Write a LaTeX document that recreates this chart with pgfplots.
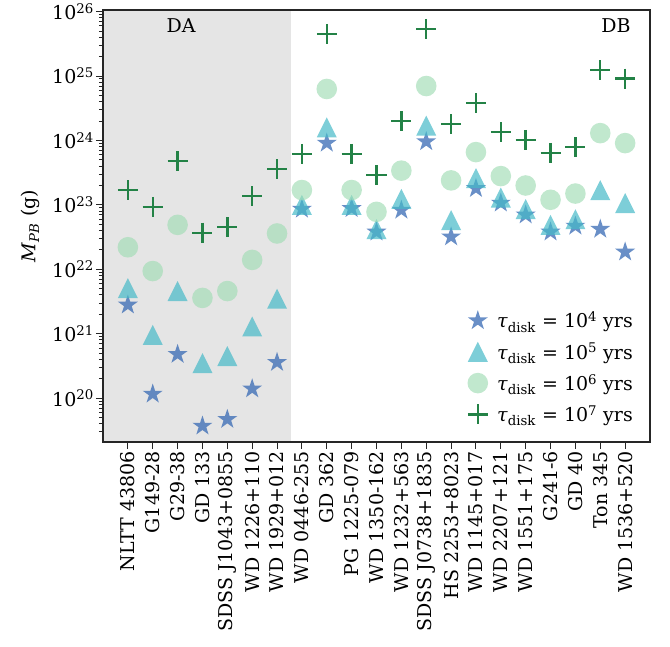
\documentclass[border=0pt]{standalone}
\usepackage{fontspec}
\setmainfont{DejaVu Serif}
\usepackage{pgfplots}
\usepackage{pgfplotstable}
\pgfplotsset{compat=1.18}

\definecolor{cstar}{RGB}{55,105,180}
\definecolor{ctri}{RGB}{70,185,200}
\definecolor{ccirc}{RGB}{160,220,180}
\definecolor{cplus}{RGB}{35,130,70}
\definecolor{bgray}{RGB}{229,229,229}
\definecolor{axgray}{RGB}{38,38,38}

\pgfdeclareplotmark{fstar}{%
  \pgfpathmoveto{\pgfpointpolar{90}{\pgfplotmarksize}}%
  \pgfpathlineto{\pgfpointpolar{126}{0.382\pgfplotmarksize}}%
  \pgfpathlineto{\pgfpointpolar{162}{\pgfplotmarksize}}%
  \pgfpathlineto{\pgfpointpolar{198}{0.382\pgfplotmarksize}}%
  \pgfpathlineto{\pgfpointpolar{234}{\pgfplotmarksize}}%
  \pgfpathlineto{\pgfpointpolar{270}{0.382\pgfplotmarksize}}%
  \pgfpathlineto{\pgfpointpolar{306}{\pgfplotmarksize}}%
  \pgfpathlineto{\pgfpointpolar{342}{0.382\pgfplotmarksize}}%
  \pgfpathlineto{\pgfpointpolar{18}{\pgfplotmarksize}}%
  \pgfpathlineto{\pgfpointpolar{54}{0.382\pgfplotmarksize}}%
  \pgfpathclose
  \pgfusepathqfill}
\pgfdeclareplotmark{ftri}{%
  \pgfpathmoveto{\pgfqpoint{0pt}{\pgfplotmarksize}}%
  \pgfpathlineto{\pgfqpoint{-\pgfplotmarksize}{-\pgfplotmarksize}}%
  \pgfpathlineto{\pgfqpoint{\pgfplotmarksize}{-\pgfplotmarksize}}%
  \pgfpathclose
  \pgfusepathqfill}
\pgfdeclareplotmark{fcirc}{%
  \pgfpathcircle{\pgfpointorigin}{\pgfplotmarksize}%
  \pgfusepathqfill}

\pgfplotstableread{
x star tri circ plus
0  2.8e21  5.1e21  2.2e22  1.7e23
1  1.16e20 9.6e20  9.4e21  9.3e22
2  4.8e20  4.6e21  4.9e22  4.8e23
3  3.7e19  3.5e20  3.6e21  3.7e22
4  4.7e19  4.5e20  4.6e21  4.5e22
5  1.4e20  1.3e21  1.4e22  1.37e23
6  3.6e20  3.5e21  3.6e22  3.6e23
7  8.6e22  1.0e23  1.7e23  6.2e23
8  9.1e23  1.6e24  6.3e24  4.5e25
9  8.8e22  1.0e23  1.7e23  6.2e23
10 3.8e22  4.2e22  7.8e22  2.9e23
11 8.3e22  1.24e23 3.4e23  2.0e24
12 9.6e23  1.7e24  7.0e24  5.4e25
13 3.2e22  5.8e22  2.4e23  1.8e24
14 1.8e23  2.6e23  6.6e23  3.8e24
15 1.07e23 1.3e23  2.8e23  1.35e24
16 7.0e22  8.6e22  2.0e23  1.02e24
17 3.8e22  4.9e22  1.2e23  6.4e23
18 4.7e22  6.0e22  1.5e23  7.9e23
19 4.2e22  1.7e23  1.3e24  1.24e25
20 1.86e22 1.07e23 9.1e23  9.1e24
}\data

\begin{document}
\begin{tikzpicture}
\useasboundingbox (-103pt,-205pt) rectangle (567pt,442pt);
\begin{axis}[
  scale only axis, width=547pt, height=432pt,
  at={(0pt,0pt)}, anchor=south west,
  xmin=-1, xmax=21,
  ymode=log, ymin=2.09e19, ymax=1.06e26,
  font=\fontsize{19}{23}\selectfont,
  xtick={0,...,20},
  xticklabels={NLTT 43806,G149-28,G29-38,GD 133,SDSS J1043+0855,WD 1226+110,WD 1929+012,WD 0446-255,GD 362,PG 1225-079,WD 1350-162,WD 1232+563,SDSS J0738+1835,HS 2253+8023,WD 1145+017,WD 2207+121,WD 1551+175,G241-6,GD 40,Ton 345,WD 1536+520},
  xticklabel style={rotate=90, anchor=east, inner sep=2pt},
  yticklabel style={inner sep=2pt},
  ytick={1e20,1e21,1e22,1e23,1e24,1e25,1e26},
  yticklabels={10\textsuperscript{20},10\textsuperscript{21},10\textsuperscript{22},10\textsuperscript{23},10\textsuperscript{24},10\textsuperscript{25},10\textsuperscript{26}},
  minor ytick={3e19,4e19,5e19,6e19,7e19,8e19,9e19,
    2e20,3e20,4e20,5e20,6e20,7e20,8e20,9e20,
    2e21,3e21,4e21,5e21,6e21,7e21,8e21,9e21,
    2e22,3e22,4e22,5e22,6e22,7e22,8e22,9e22,
    2e23,3e23,4e23,5e23,6e23,7e23,8e23,9e23,
    2e24,3e24,4e24,5e24,6e24,7e24,8e24,9e24,
    2e25,3e25,4e25,5e25,6e25,7e25,8e25,9e25},
  xtick pos=left, ytick pos=left,
  tick align=outside,
  major tick length=7pt, minor tick length=4pt,
  every tick/.style={axgray, line width=1pt},
  axis line style={axgray, line width=1.2pt},
  axis on top,
  ylabel={\textit{M}\textsubscript{\textit{PB}} (g)},
  ylabel style={yshift=7pt},
  legend style={at={(0.978,0.034)}, anchor=south east, draw=none, fill=none,
    font=\fontsize{19}{23}\selectfont, row sep=9.7pt,
    /tikz/every odd column/.append style={column sep=7pt}},
  legend cell align=left,
]
\fill[bgray] (axis cs:-1,1e19) rectangle (axis cs:6.55,1e27);
\addplot[only marks, mark=fstar, mark size=10.5pt, mark options={fill=cstar, fill opacity=0.75}] table[x=x,y=star]{\data};
\addlegendentry{\textit{τ}\textsubscript{disk} = 10\textsuperscript{4} yrs}
\addplot[only marks, mark=ftri, mark size=10pt, mark options={fill=ctri, fill opacity=0.7}] table[x=x,y=tri]{\data};
\addlegendentry{\textit{τ}\textsubscript{disk} = 10\textsuperscript{5} yrs}
\addplot[only marks, mark=fcirc, mark size=10.3pt, mark options={fill=ccirc, fill opacity=0.65}] table[x=x,y=circ]{\data};
\addlegendentry{\textit{τ}\textsubscript{disk} = 10\textsuperscript{6} yrs}
\addplot[only marks, mark=+, mark size=10pt, mark options={draw=cplus, line width=2.4pt}] table[x=x,y=plus]{\data};
\addlegendentry{\textit{τ}\textsubscript{disk} = 10\textsuperscript{7} yrs}
\node at (rel axis cs:0.1426,0.963) {DA};
\node at (rel axis cs:0.938,0.963) {DB};
\end{axis}
\end{tikzpicture}
\end{document}
